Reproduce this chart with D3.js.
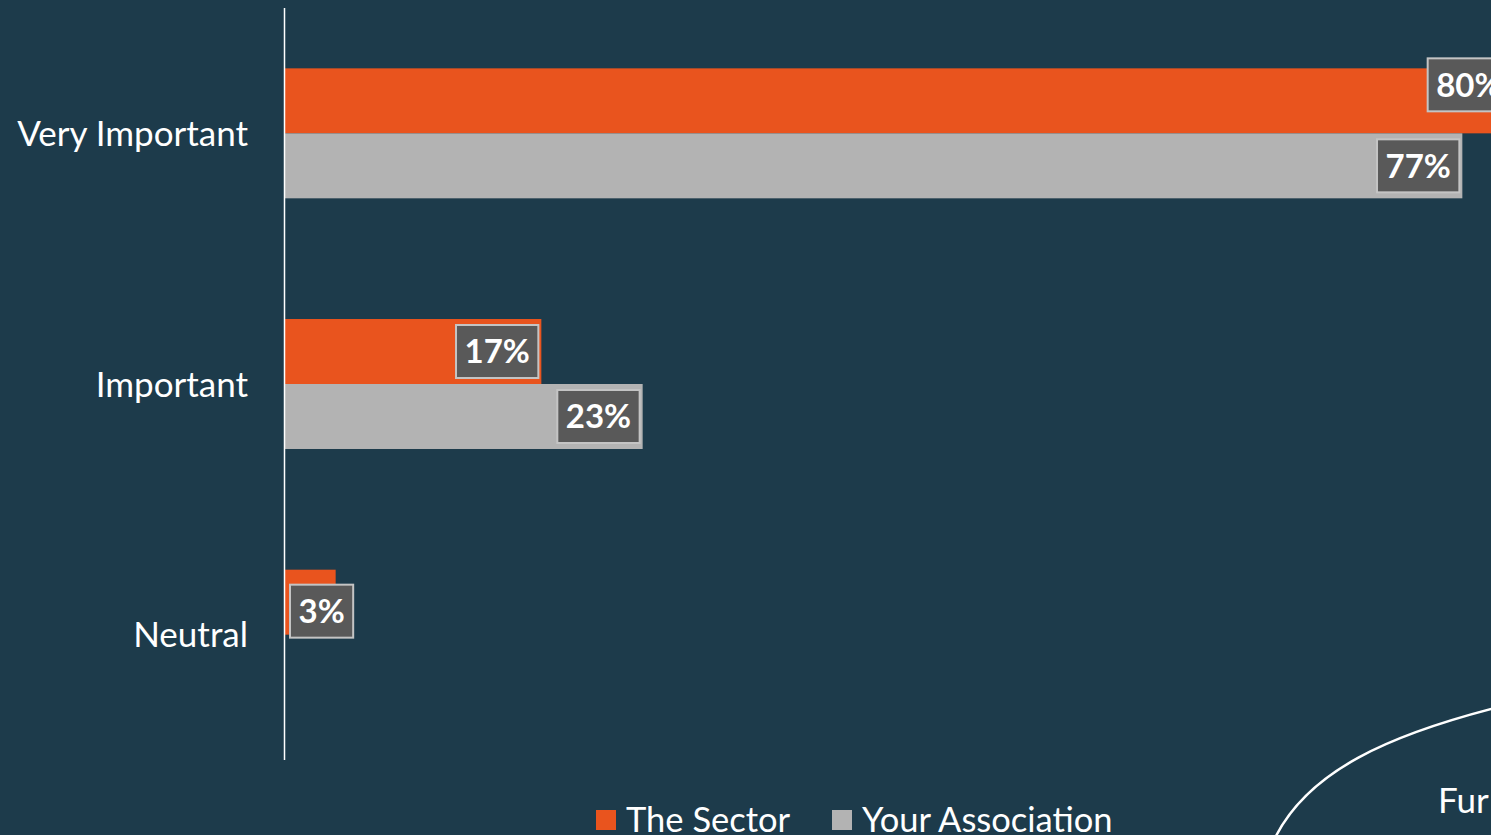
<!DOCTYPE html>
<html><head><meta charset="utf-8">
<script src="https://cdn.jsdelivr.net/npm/d3@7"></script>
<style>
html,body{margin:0;padding:0;background:#1d3b4b;overflow:hidden;}
svg{display:block;}
</style></head>
<body>
<svg id="c" width="1491" height="835"></svg>
<script>
const categories = ["Very Important", "Important", "Neutral"];
const seriesNames = ["The Sector", "Your Association"];
const sectorValues = [80.0, 16.7, 3.3];
const associationValues = [76.7, 23.3, 0];
const sectorLabels = ["80%", "17%", "3%"];
const associationLabels = ["77%", "23%", ""];

const colors = {"The Sector": "#e9541e", "Your Association": "#b3b3b3"};
const FONT = "Lato, 'Open Sans', sans-serif";

const svg = d3.select("#c");
const W = 1491, H = 835;
svg.append("rect").attr("width", W).attr("height", H).attr("fill", "#1d3b4b");

const x0 = 285;
const x = d3.scaleLinear().domain([0, 100]).range([x0, x0 + 1535]);
const p = 1 - 130 / 250.7;
const y = d3.scaleBand().domain(categories).range([8, 760]).paddingInner(p).paddingOuter(p / 2);
const ySub = d3.scaleBand().domain(seriesNames).range([0, y.bandwidth()]);

const rows = [];
categories.forEach((c, i) => {
  rows.push({cat: c, s: "The Sector", v: sectorValues[i], label: sectorLabels[i]});
  rows.push({cat: c, s: "Your Association", v: associationValues[i], label: associationLabels[i]});
});

// bars
svg.append("g").selectAll("rect").data(rows.filter(d => d.v > 0)).join("rect")
  .attr("x", x(0))
  .attr("y", d => y(d.cat) + ySub(d.s))
  .attr("width", d => x(d.v) - x(0))
  .attr("height", ySub.bandwidth())
  .attr("fill", d => colors[d.s]);

// axis line
svg.append("line").attr("x1", 284.5).attr("x2", 284.5).attr("y1", 8).attr("y2", 760)
  .attr("stroke", "#ffffff").attr("stroke-width", 1.5);

// category labels
svg.append("g").selectAll("text").data(categories).join("text")
  .attr("x", 248)
  .attr("y", d => y(d) + y.bandwidth() / 2)
  .attr("dy", "0.36em")
  .attr("text-anchor", "end")
  .attr("fill", "#ffffff")
  .style("font-family", FONT)
  .style("font-size", "35px")
  .text(d => d);

// data labels
const nudge = {"Very Important|The Sector": -16, "Neutral|The Sector": 9};
const lg = svg.append("g");
rows.filter(d => d.label).forEach(d => {
  const g = lg.append("g");
  const t = g.append("text")
    .attr("fill", "#ffffff")
    .style("font-family", FONT)
    .style("font-weight", "bold")
    .style("font-size", "33px")
    .attr("text-anchor", "middle")
    .attr("dy", "0.36em")
    .text(d.label);
  const bw = t.node().getBBox().width + 17;
  const bh = 53;
  const barEnd = x(d.v);
  let right = barEnd - 3;
  if (right - bw < x(0) + 5) right = x(0) + 5 + bw;
  const cy = y(d.cat) + ySub(d.s) + ySub.bandwidth() / 2 + (nudge[d.cat + "|" + d.s] || 0);
  g.insert("rect", "text")
    .attr("x", right - bw).attr("y", cy - bh / 2)
    .attr("width", bw).attr("height", bh)
    .attr("fill", "#595959").attr("stroke", "#c4c4c4").attr("stroke-width", 2);
  t.attr("x", right - bw / 2).attr("y", cy);
});

// legend
const leg = svg.append("g").attr("transform", "translate(596,820)");
const legendX = [0, 236];
seriesNames.forEach((s, i) => {
  const g = leg.append("g").attr("transform", `translate(${legendX[i]},0)`);
  g.append("rect").attr("x", 0).attr("y", -10).attr("width", 20).attr("height", 20).attr("fill", colors[s]);
  g.append("text").attr("x", 30).attr("y", 0).attr("dy", "0.36em")
    .attr("fill", "#ffffff").style("font-family", FONT).style("font-size", "34.5px").text(s);
});

// decorative slide element bottom-right
svg.append("path")
  .attr("d", "M1276,836 C1310,770 1390,735 1495,708")
  .attr("fill", "none").attr("stroke", "#ffffff").attr("stroke-width", 2.5);
svg.append("text").attr("x", 1438).attr("y", 813)
  .attr("fill", "#ffffff").style("font-family", FONT).style("font-size", "35px").text("Fur");
</script>
</body></html>
